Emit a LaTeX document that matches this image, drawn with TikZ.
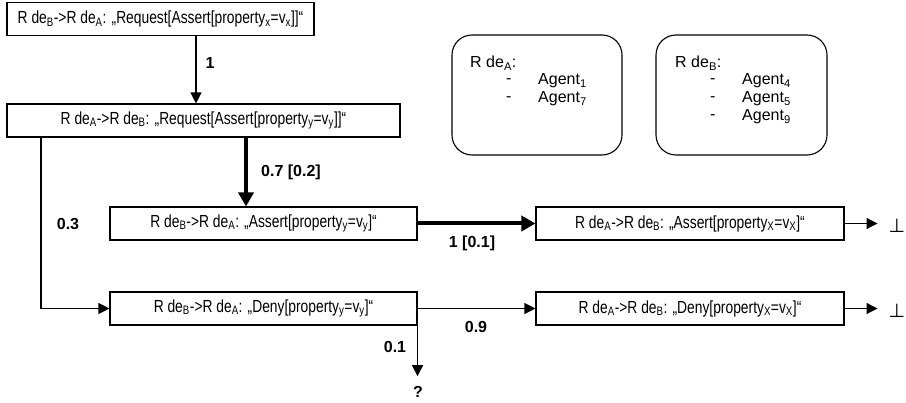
\documentclass[tikz,border=0pt]{standalone}
\usepackage{fontspec}
\setmainfont{Liberation Sans}
\newfontfamily\boxfont[FakeStretch=0.79]{Liberation Sans}
\newfontfamily\symfont{DejaVu Sans}
\usetikzlibrary{arrows.meta}
\newcommand{\sbs}[1]{\textsubscript{#1}}
\begin{document}
\begin{tikzpicture}[x=1pt,y=-1pt,
  msgbox/.style={draw,line width=1.1pt,minimum height=33pt,inner sep=0pt,
    font=\boxfont\fontsize{17.5}{19}\selectfont},
  rolebox/.style={draw,line width=1.1pt,rounded corners=20pt,inner sep=0pt},
  roletxt/.style={anchor=west,inner sep=0pt,font=\fontsize{16}{18}\selectfont},
  lbl/.style={inner sep=0pt,font=\bfseries\fontsize{16}{18}\selectfont},
  thinarr/.style={line width=1.1pt,-{Triangle[length=11pt,width=11pt]}},
  thickarr/.style={line width=4pt,-{Triangle[length=14pt,width=15pt]}},
  botsym/.style={inner sep=0pt,font=\symfont\fontsize{19}{21}\selectfont},
]
\useasboundingbox (0,0) rectangle (906,403);

% message boxes
\node[msgbox,minimum width=307pt] (b1) at (160.5,19)
  {R de\sbs{B}->R de\sbs{A}: „Request[Assert[property\sbs{x}=v\sbs{x}]]“};
\node[msgbox,minimum width=393pt] (b2) at (203.5,120.5)
  {R de\sbs{A}->R de\sbs{B}: „Request[Assert[property\sbs{y}=v\sbs{y}]]“};
\node[msgbox,minimum width=307pt] (b3) at (263.5,223.5)
  {R de\sbs{B}->R de\sbs{A}: „Assert[property\sbs{y}=v\sbs{y}]“};
\node[msgbox,minimum width=308pt] (b4) at (690,223.5)
  {R de\sbs{A}->R de\sbs{B}: „Assert[property\sbs{X}=v\sbs{X}]“};
\node[msgbox,minimum width=307pt] (b5) at (263.5,308.5)
  {R de\sbs{B}->R de\sbs{A}: „Deny[property\sbs{y}=v\sbs{y}]“};
\node[msgbox,minimum width=308pt] (b6) at (690,308.5)
  {R de\sbs{A}->R de\sbs{B}: „Deny[property\sbs{X}=v\sbs{X}]“};

% role boxes
\node[rolebox,minimum width=170pt,minimum height=120pt] (ra) at (537,95) {};
\node[rolebox,minimum width=171pt,minimum height=120pt] (rb) at (741.5,95) {};
\node[roletxt] (raT) at (470,63) {R de\sbs{A}:};
\node[roletxt] (raD1) at (506,81) {-};
\node[roletxt] (raA1) at (538,81) {Agent\sbs{1}};
\node[roletxt] (raD2) at (506,99) {-};
\node[roletxt] (raA2) at (538,99) {Agent\sbs{7}};
\node[roletxt] (rbT) at (675,63) {R de\sbs{B}:};
\node[roletxt] (rbD1) at (710,81) {-};
\node[roletxt] (rbA1) at (742,81) {Agent\sbs{4}};
\node[roletxt] (rbD2) at (710,99) {-};
\node[roletxt] (rbA2) at (742,99) {Agent\sbs{5}};
\node[roletxt] (rbD3) at (710,117) {-};
\node[roletxt] (rbA3) at (742,117) {Agent\sbs{9}};

% end symbols
\node[botsym] (e1) at (897,226) {⊥};
\node[botsym] (e2) at (897,311) {⊥};
\node[lbl] (qm) at (418,392) {?};

% helper coordinates
\coordinate (c196) at (196,0);
\coordinate (c246) at (246,0);
\coordinate (c41) at (41,0);

% connectors
\draw[thinarr] (b1.south -| c196) -- (b2.north -| c196);
\draw[thickarr] (b2.south -| c246) -- (b3.north -| c246);
\draw[thinarr] (b2.south -| c41) |- (b5.west);
\draw[thickarr] (b3.east) -- (b4.west);
\draw[thinarr,shorten >=11pt] (b4.east) -- (e1.west |- b4.east);
\draw[thinarr] (b5.east) -- (b6.west);
\draw[thinarr,shorten >=11pt] (b6.east) -- (e2.west |- b6.east);
\draw[thinarr,shorten >=10pt] (b5.south east) -- (qm.north -| b5.south east);

% labels
\node[lbl] (l1) at (210,63) {1};
\node[lbl] (l2) at (291,172) {0.7 [0.2]};
\node[lbl] (l3) at (68,224) {0.3};
\node[lbl] (l4) at (472,243) {1 [0.1]};
\node[lbl] (l5) at (476,327) {0.9};
\node[lbl] (l6) at (395,347) {0.1};
\end{tikzpicture}
\end{document}
